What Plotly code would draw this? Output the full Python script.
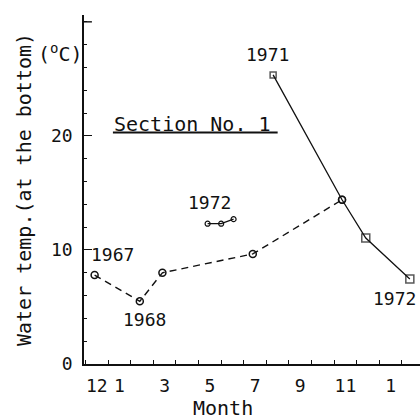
import plotly.graph_objects as go

# ---- data ----
# x = months counted from Dec 1967 (0 = Dec, 1 = Jan, ...)
dashed_month = [-0.1, 1.9, 2.9, 6.9, 10.85]
dashed_temp = [7.8, 5.5, 8.0, 9.65, 14.4]

solid_month = [7.8, 10.85, 11.9, 13.85]
solid_temp = [25.35, 14.4, 11.05, 7.45]

mini_month = [4.9, 5.5, 6.05]
mini_temp = [12.3, 12.3, 12.7]

x_tick_vals = [0, 1, 3, 5, 7, 9, 11, 13]
x_tick_text = ["12", "1", "3", "5", "7", "9", "11", "1"]
y_tick_vals = [0, 10, 20]
y_tick_text = ["0", "10", "20"]
y_unlabelled_tick = 30

FONT = "DejaVu Sans Mono"
BLACK = "#111111"
X_RANGE = [-0.57, 14.3]

fig = go.Figure()

fig.add_trace(go.Scatter(
    x=dashed_month, y=dashed_temp, mode="lines+markers",
    line=dict(color=BLACK, width=1.4, dash="7px,5px"),
    marker=dict(symbol="circle-open", size=7, color=BLACK, line=dict(width=1.5)),
    showlegend=False, cliponaxis=False))

fig.add_trace(go.Scatter(
    x=solid_month, y=solid_temp, mode="lines+markers",
    line=dict(color=BLACK, width=1.3),
    marker=dict(symbol=["square-open", "circle-open", "square-open", "square-open"],
                size=[6, 7, 8, 8], color=BLACK, line=dict(width=1.5)),
    showlegend=False, cliponaxis=False))

fig.add_trace(go.Scatter(
    x=mini_month, y=mini_temp, mode="lines+markers",
    line=dict(color=BLACK, width=1.3),
    marker=dict(symbol="circle-open", size=5, color=BLACK, line=dict(width=1.2)),
    showlegend=False, cliponaxis=False))

ann_font = dict(family=FONT, size=18, color=BLACK)
annotations = [
    dict(x=0.71, y=9.56, text="1967"),
    dict(x=2.12, y=3.86, text="1968"),
    dict(x=7.57, y=27.1, text="1971"),
    dict(x=5.0, y=14.2, text="1972"),
    dict(x=14.2, y=5.7, text="1972", xanchor="right"),
]
for a in annotations:
    fig.add_annotation(xref="x", yref="y", showarrow=False, font=ann_font,
                       xanchor=a.get("xanchor", "center"), yanchor="middle",
                       x=a["x"], y=a["y"], text=a["text"])

fig.add_annotation(xref="x", yref="y", x=4.25, y=21.0, text="Section No. 1",
                   showarrow=False, font=dict(family=FONT, size=20, color=BLACK),
                   xanchor="center", yanchor="middle")
fig.add_shape(type="line", xref="x", yref="y", x0=0.71, x1=8.0, y0=20.3, y1=20.3,
              line=dict(color=BLACK, width=2))

# unlabelled major tick at the top of the y axis
fig.add_shape(type="line", xref="x", yref="y", x0=X_RANGE[0], x1=X_RANGE[0] + 0.35,
              y0=y_unlabelled_tick, y1=y_unlabelled_tick,
              line=dict(color=BLACK, width=1.4))

fig.add_annotation(xref="paper", yref="paper", x=-0.07, y=0.89, text="(<sup>o</sup>C)",
                   showarrow=False, font=dict(family=FONT, size=20, color=BLACK),
                   xanchor="center", yanchor="middle")
fig.add_annotation(xref="paper", yref="paper", x=-0.18, y=0.5,
                   text="Water temp.(at the bottom)", textangle=-90,
                   showarrow=False, font=dict(family=FONT, size=20, color=BLACK),
                   xanchor="center", yanchor="middle")
fig.add_annotation(xref="x", yref="paper", x=5.6, y=-0.125, text="Month",
                   showarrow=False, font=dict(family=FONT, size=20, color=BLACK),
                   xanchor="center", yanchor="middle")

fig.update_xaxes(range=X_RANGE, showline=True, linecolor=BLACK, linewidth=1.6,
                 showgrid=False, zeroline=False,
                 tickmode="array", tickvals=x_tick_vals, ticktext=x_tick_text,
                 ticks="", ticklabelstandoff=5,
                 tickfont=dict(family=FONT, size=18, color=BLACK),
                 minor=dict(tickmode="linear", tick0=0.5, dtick=1, ticks="inside",
                            ticklen=4, tickcolor=BLACK, tickwidth=1.2, showgrid=False))
fig.update_yaxes(range=[0, 30.6], showline=True, linecolor=BLACK, linewidth=1.6,
                 showgrid=False, zeroline=False,
                 tickmode="array", tickvals=y_tick_vals, ticktext=y_tick_text,
                 ticks="inside", ticklen=8, tickwidth=1.4, tickcolor=BLACK,
                 ticklabelstandoff=6,
                 tickfont=dict(family=FONT, size=18, color=BLACK),
                 minor=dict(tickmode="linear", tick0=0, dtick=2, ticks="inside",
                            ticklen=3, tickcolor=BLACK, tickwidth=1, showgrid=False))

fig.update_layout(width=420, height=420, margin=dict(l=84, r=0, t=15, b=56),
                  paper_bgcolor="white", plot_bgcolor="white")

fig.write_html("out.html")
